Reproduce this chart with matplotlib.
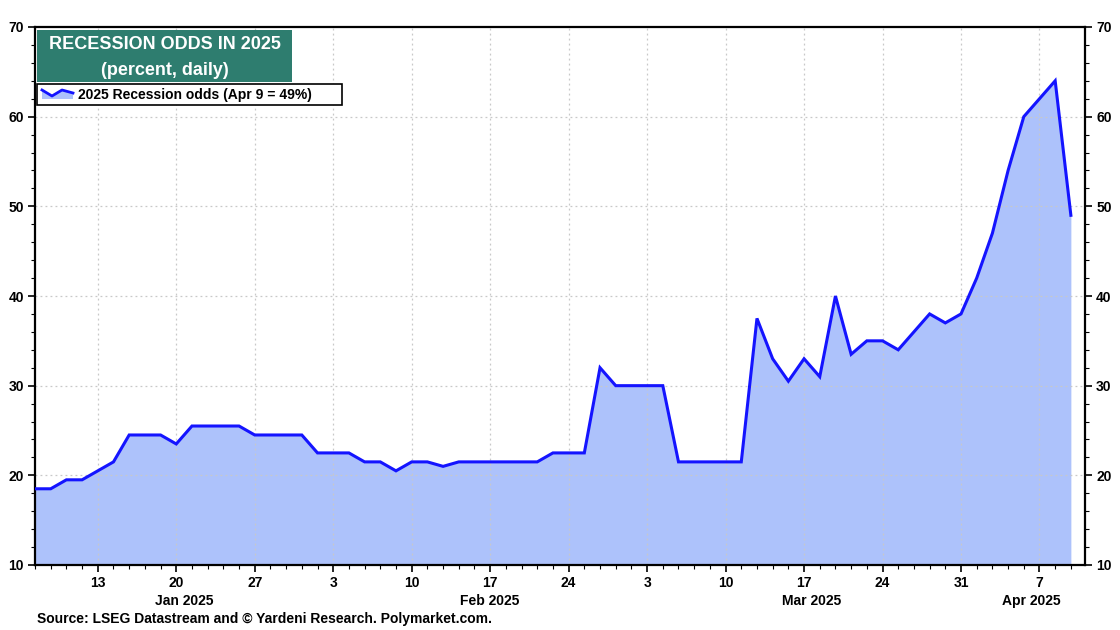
import numpy as np
import pandas as pd
import matplotlib
matplotlib.use("Agg")
import matplotlib.pyplot as plt
from matplotlib.patches import Rectangle, Polygon
from matplotlib.transforms import blended_transform_factory

plt.rcParams['font.family'] = ['Liberation Sans', 'DejaVu Sans']
plt.rcParams['font.weight'] = 'bold'

# business days, plotted evenly spaced
dates = pd.bdate_range("2025-01-07", "2025-04-09")
odds = [18.5, 18.5, 19.5, 19.5, 20.5, 21.5, 24.5, 24.5, 24.5, 23.5,
        25.5, 25.5, 25.5, 25.5, 24.5, 24.5, 24.5, 24.5, 22.5, 22.5,
        22.5, 21.5, 21.5, 20.5, 21.5, 21.5, 21.0, 21.5, 21.5, 21.5,
        21.5, 21.5, 21.5, 22.5, 22.5, 22.5, 32.0, 30.0, 30.0, 30.0,
        30.0, 21.5, 21.5, 21.5, 21.5, 21.5, 37.5, 33.0, 30.5, 33.0,
        31.0, 40.0, 33.5, 35.0, 35.0, 34.0, 36.0, 38.0, 37.0, 38.0,
        42.0, 47.0, 54.0, 60.0, 62.0, 64.0, 49.0]
month_names = ["Jan 2025", "Feb 2025", "Mar 2025", "Apr 2025"]
legend_label = "2025 Recession odds (Apr 9 = 49%)"
title_lines = "RECESSION ODDS IN 2025\n(percent, daily)"
source = "Source: LSEG Datastream and \u00a9 Yardeni Research. Polymarket.com."

line_col = "#1414ff"
fill_col = "#adc2fb"
teal = "#2e7d6f"

idx = np.arange(len(dates))

fig = plt.figure(figsize=(11.2, 6.3), dpi=100)
ax = fig.add_axes([35/1120, 65/630, 1050/1120, 538/630])

ax.fill_between(idx, 10, odds, color=fill_col, lw=0, zorder=1)
ax.plot(idx, odds, color=line_col, lw=2.2, zorder=3, solid_joinstyle='miter')

ax.set_xlim(0, 66.9)
ax.set_ylim(10, 70)

# weekly ticks on Mondays
mondays = idx[dates.dayofweek == 0]
ax.set_xticks(mondays)
ax.set_xticklabels([str(d.day) for d in dates[mondays]])
ax.set_xticks(idx, minor=True)
ax.set_yticks(np.arange(10, 71, 10))
ax.set_yticks(np.arange(10, 71, 2), minor=True)

ax.tick_params(axis='both', which='major', direction='out', length=5, width=1.2,
               labelsize=10, pad=3)
ax.tick_params(axis='both', which='minor', direction='out', length=3, width=0.8)
ax.tick_params(axis='y', which='both', right=True, labelright=True)
for lab in ax.get_xticklabels() + ax.get_yticklabels():
    lab.set_fontweight('bold')

for s in ax.spines.values():
    s.set_linewidth(1.6)
    s.set_color('black')

# grid (skip the frame edges)
for m in mondays:
    ax.axvline(m, color='#c8c8c8', lw=0.9, ls=(0, (1.5, 2.5)), zorder=2)
for yv in range(20, 70, 10):
    ax.axhline(yv, color='#c8c8c8', lw=0.9, ls=(0, (1.5, 2.5)), zorder=2)

# month labels centred on the month's span
trans = blended_transform_factory(ax.transData, ax.transAxes)
for i, name in enumerate(month_names):
    sel = idx[dates.month == i + 1]
    ax.text((sel[0] + sel[-1] + 1) / 2, -0.067, name, transform=trans,
            ha='center', va='center', fontsize=10, fontweight='bold')

# title box
ax.add_patch(Rectangle((0.002, 0.898), 0.243, 0.097, transform=ax.transAxes,
                       facecolor=teal, edgecolor='none', zorder=5))
ax.text(0.1235, 0.9425, title_lines, transform=ax.transAxes, ha='center',
        va='center', color='white', fontsize=13, fontweight='bold',
        linespacing=1.7, zorder=6)

# legend box
ax.add_patch(Rectangle((0.002, 0.855), 0.29, 0.039, transform=ax.transAxes,
                       facecolor='white', edgecolor='black', lw=1.2, zorder=5))
px = lambda x: (x - 35) / 1050
py = lambda y: (565 - y) / 538
icon_x = [px(42), px(52), px(62), px(73)]
icon_y = [py(90), py(96), py(90), py(93)]
ax.add_patch(Polygon(list(zip(icon_x, icon_y)) + [(px(73), py(99)), (px(42), py(99))],
                     closed=True, transform=ax.transAxes, facecolor=fill_col,
                     edgecolor='none', zorder=6))
ax.plot(icon_x, icon_y, transform=ax.transAxes, color=line_col, lw=2.0, zorder=7)
ax.text(px(78), py(94.5), legend_label, transform=ax.transAxes, ha='left',
        va='center', fontsize=10, fontweight='bold', zorder=7)

fig.text(37/1120, 11/630, source, ha='left', va='center', fontsize=10,
         fontweight='bold')

fig.savefig("out.png", dpi=100)
